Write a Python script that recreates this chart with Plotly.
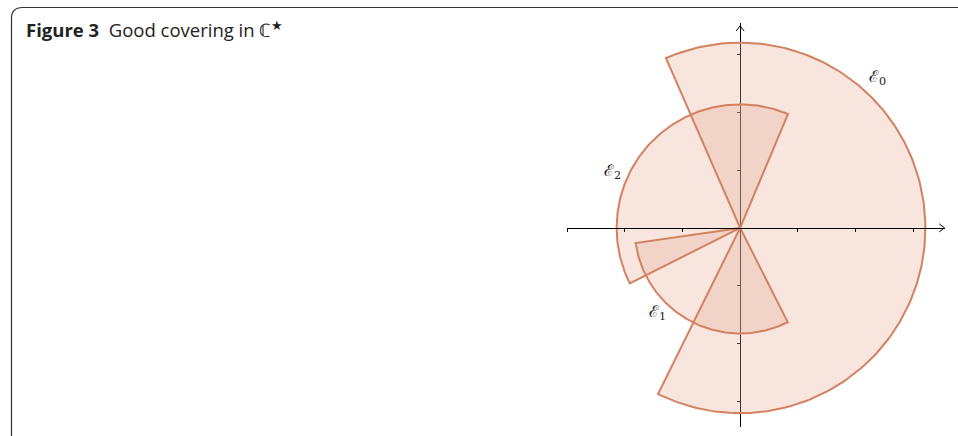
import numpy as np
import plotly.graph_objects as go

# ---- data ----
sector_labels = ["ℰ<sub>0</sub>", "ℰ<sub>1</sub>", "ℰ<sub>2</sub>"]
sector_radius = [3.21, 1.83, 2.14]
sector_start_deg = [-116.3, 188.3, 67.2]
sector_end_deg = [113.6, 296.8, 206.7]
label_x = [2.38, -1.43, -2.21]
label_y = [2.60, -1.47, 0.97]

x_tick_vals = [-3, -2, -1, 1, 2, 3]
y_tick_vals = [-3, -2, -1, 1, 2, 3]
x_axis_range = [-3.0, 3.55]
y_axis_range = [-3.45, 3.55]

FILL = "rgba(228,168,146,0.30)"
EDGE = "#d3815f"


def sector(r, a0, a1, n=200):
    t = np.radians(np.linspace(a0, a1, n))
    xs = np.concatenate([[0.0], r * np.cos(t), [0.0]])
    ys = np.concatenate([[0.0], r * np.sin(t), [0.0]])
    return xs, ys


fig = go.Figure()

# fills first
for r, a0, a1 in zip(sector_radius, sector_start_deg, sector_end_deg):
    xs, ys = sector(r, a0, a1)
    fig.add_trace(go.Scatter(x=xs, y=ys, mode="lines", fill="toself",
                             fillcolor=FILL, line=dict(width=0),
                             hoverinfo="skip", showlegend=False))
# outlines on top
for r, a0, a1 in zip(sector_radius, sector_start_deg, sector_end_deg):
    xs, ys = sector(r, a0, a1)
    fig.add_trace(go.Scatter(x=xs, y=ys, mode="lines",
                             line=dict(color=EDGE, width=2),
                             hoverinfo="skip", showlegend=False))

# arrow chevrons at axis ends
ax_end = x_axis_range[1] - 0.01
ay_end = y_axis_range[1] - 0.05
fig.add_trace(go.Scatter(x=[ax_end - 0.09, ax_end, ax_end - 0.09],
                         y=[0.07, 0, -0.07], mode="lines",
                         line=dict(color="black", width=1),
                         cliponaxis=False, hoverinfo="skip", showlegend=False))
fig.add_trace(go.Scatter(x=[-0.07, 0, 0.07],
                         y=[ay_end - 0.09, ay_end, ay_end - 0.09], mode="lines",
                         line=dict(color="black", width=1),
                         cliponaxis=False, hoverinfo="skip", showlegend=False))

for txt, lx, ly in zip(sector_labels, label_x, label_y):
    fig.add_annotation(x=lx, y=ly, text=txt, showarrow=False,
                       font=dict(family="DejaVu Serif", size=16, color="#222"))

xpos = (0 - y_axis_range[0]) / (y_axis_range[1] - y_axis_range[0])
ypos = (0 - x_axis_range[0]) / (x_axis_range[1] - x_axis_range[0])

fig.update_layout(
    width=958, height=436,
    margin=dict(l=567, r=13, t=23, b=9),
    paper_bgcolor="white", plot_bgcolor="rgba(0,0,0,0)",
    xaxis=dict(range=x_axis_range, anchor="free", position=xpos,
               showgrid=False, zeroline=False, showline=True,
               linecolor="black", linewidth=1, ticks="outside",
               tickvals=x_tick_vals, ticklen=3, tickcolor="black",
               tickwidth=1, showticklabels=False, layer="above traces"),
    yaxis=dict(range=y_axis_range, anchor="free", position=ypos,
               showgrid=False, zeroline=False, showline=True,
               linecolor="black", linewidth=1.2, ticks="outside",
               tickvals=y_tick_vals, ticklen=3, tickcolor="black",
               tickwidth=1, showticklabels=False, layer="below traces"),
    title=dict(text="<b>Figure 3</b>\u00a0\u00a0Good covering in ℂ<sup>★</sup>",
               xref="container", yref="container", x=26 / 958,
               xanchor="left", y=1 - 31 / 436, yanchor="middle",
               font=dict(family="Open Sans", size=18.5, color="#222")),
)


# rounded border (extends beyond the right and bottom edges)
def px2paper(px, py):
    return (px - 567) / 378, (427 - py) / 404


pts = [(11.5, 450), (11.5, 18.5), (11.5, 7.5), (22.5, 7.5), (975, 7.5)]
p = [px2paper(*q) for q in pts]
path = (f"M {p[0][0]},{p[0][1]} L {p[1][0]},{p[1][1]} "
        f"Q {p[2][0]},{p[2][1]} {p[3][0]},{p[3][1]} L {p[4][0]},{p[4][1]}")
fig.add_shape(type="path", xref="paper", yref="paper", path=path,
              line=dict(color="#333", width=1.2))

fig.write_html("out.html")
